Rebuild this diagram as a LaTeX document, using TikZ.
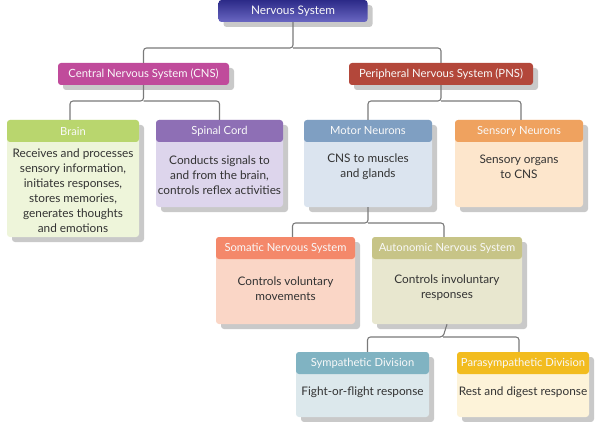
\documentclass[tikz,border=0pt]{standalone}
\usepackage{fontspec}
\setmainfont{Lato}
\usetikzlibrary{positioning,shadows}

\definecolor{lineg}{HTML}{7A7A7A}
\definecolor{shadowg}{HTML}{C9C9C9}
\definecolor{nstop}{HTML}{2C2A88}
\definecolor{nsbot}{HTML}{6A67C2}
\definecolor{cnsc}{HTML}{C04B9B}
\definecolor{pnsc}{HTML}{B3473A}
\definecolor{brainh}{HTML}{B9D66E}
\definecolor{brainb}{HTML}{EEF5DA}
\definecolor{spinh}{HTML}{8E6FB5}
\definecolor{spinb}{HTML}{DDD5EC}
\definecolor{motorh}{HTML}{7F9FC2}
\definecolor{motorb}{HTML}{DBE4EF}
\definecolor{sensh}{HTML}{EFA25F}
\definecolor{sensb}{HTML}{FDE6CC}
\definecolor{somh}{HTML}{F4886A}
\definecolor{somb}{HTML}{FAD6C6}
\definecolor{autoh}{HTML}{C7C487}
\definecolor{autob}{HTML}{E8E7CF}
\definecolor{symph}{HTML}{80B3C2}
\definecolor{sympb}{HTML}{DCE8EC}
\definecolor{parah}{HTML}{F2BC1F}
\definecolor{parab}{HTML}{FDF3D9}

\begin{document}
\begin{tikzpicture}[x=1pt, y=-1pt,
    shd/.style={drop shadow={shadow xshift=5pt, shadow yshift=-5pt, fill=shadowg, opacity=1}},
    top/.style={rectangle, rounded corners=3pt, shd, minimum height=22pt, inner sep=0pt,
        font=\fontsize{11.3}{13}\selectfont, text=white!95!gray},
    card/.style={rectangle, rounded corners=3pt, shd, inner sep=0pt},
    head/.style={rectangle, rounded corners=3pt, minimum height=22pt, inner sep=0pt,
        anchor=north, font=\fontsize{11.2}{13}\selectfont, text=white!95!gray},
    txt/.style={align=center, inner sep=0pt, text=black!80, font=\fontsize{11.8}{15}\selectfont},
    link/.style={draw=lineg, line width=1.1pt, rounded corners=3pt}]
    \useasboundingbox (0,0) rectangle (596,422);
    % top levels
    \node [top, minimum width=149pt, top color=nstop, bottom color=nsbot,
        font=\fontsize{11.8}{13}\selectfont] (ns) at (293,11) {Nervous System};
    \node [top, minimum width=171pt, fill=cnsc] (cns) at (143.5,74) {Central Nervous System (CNS)};
    \node [top, minimum width=184pt, fill=pnsc] (pns) at (441,74) {Peripheral Nervous System (PNS)};
    % CNS branch
    \node [card, minimum width=132pt, minimum height=117pt, fill=brainb] (brain) at (73,178.5) {};
    \node [head, minimum width=132pt, fill=brainh] (brain-h) at (brain.north) {Brain};
    \node [txt] (brain-t) at (73,190.5) {Receives and processes\\sensory information,\\initiates responses,\\stores memories,\\generates thoughts\\and emotions};
    \node [card, minimum width=127pt, minimum height=87pt, fill=spinb] (spin) at (219.5,163.5) {};
    \node [head, minimum width=127pt, fill=spinh] (spin-h) at (spin.north) {Spinal Cord};
    \node [txt] (spin-t) at (219.5,175) {Conducts signals to\\and from the brain,\\controls reflex activities};
    % PNS branch
    \node [card, minimum width=128pt, minimum height=87pt, fill=motorb] (motor) at (368,163.5) {};
    \node [head, minimum width=128pt, fill=motorh] (motor-h) at (motor.north) {Motor Neurons};
    \node [txt] (motor-t) at (368,167) {CNS to muscles\\and glands};
    \node [card, minimum width=128pt, minimum height=87pt, fill=sensb] (sens) at (519,163.5) {};
    \node [head, minimum width=128pt, fill=sensh] (sens-h) at (sens.north) {Sensory Neurons};
    \node [txt] (sens-t) at (519,167) {Sensory organs\\to CNS};
    % motor neurons
    \node [card, minimum width=139pt, minimum height=87pt, fill=somb] (som) at (285.5,280.5) {};
    \node [head, minimum width=139pt, fill=somh] (som-h) at (som.north) {Somatic Nervous System};
    \node [txt] (som-t) at (285.5,288.5) {Controls voluntary\\movements};
    \node [card, minimum width=150pt, minimum height=87pt, fill=autob] (auto) at (447,280.5) {};
    \node [head, minimum width=150pt, fill=autoh] (auto-h) at (auto.north) {Autonomic Nervous System};
    \node [txt] (auto-t) at (447,287.5) {Controls involuntary\\responses};
    % autonomic
    \node [card, minimum width=133pt, minimum height=65pt, fill=sympb] (symp) at (362.5,384.5) {};
    \node [head, minimum width=133pt, fill=symph] (symp-h) at (symp.north) {Sympathetic Division};
    \node [txt] (symp-t) at (362.5,392) {Fight-or-flight response};
    \node [card, minimum width=132pt, minimum height=65pt, fill=parab] (para) at (523,384.5) {};
    \node [head, minimum width=132pt, fill=parah] (para-h) at (para.north) {Parasympathetic Division};
    \node [txt] (para-t) at (523,392) {Rest and digest response};
    % connectors
    \coordinate (j1) at (293,48);
    \coordinate (j2) at (143.5,101);
    \coordinate (j3) at (441,101);
    \coordinate (j4) at (368,223);
    \coordinate (j5) at (443,337);
    \draw [link] (ns.south) -- (j1) -| (cns.north);
    \draw [link] (j1) -| (pns.north);
    \draw [link] (cns.south) -- (j2) -| ([xshift=-3pt]brain-h.north);
    \draw [link] (j2) -| (spin-h.north);
    \draw [link] (pns.south) -- (j3) -| (motor-h.north);
    \draw [link] (j3) -| ([xshift=2pt]sens-h.north);
    \draw [link] (motor.south) -- (j4) -| ([xshift=7pt]som-h.north);
    \draw [link] (j4) -| ([xshift=-3pt]auto-h.north);
    \draw [link] (auto.south) -- (j5) -| ([xshift=5pt]symp-h.north);
    \draw [link] (j5) -| ([xshift=-4pt]para-h.north);
\end{tikzpicture}
\end{document}
